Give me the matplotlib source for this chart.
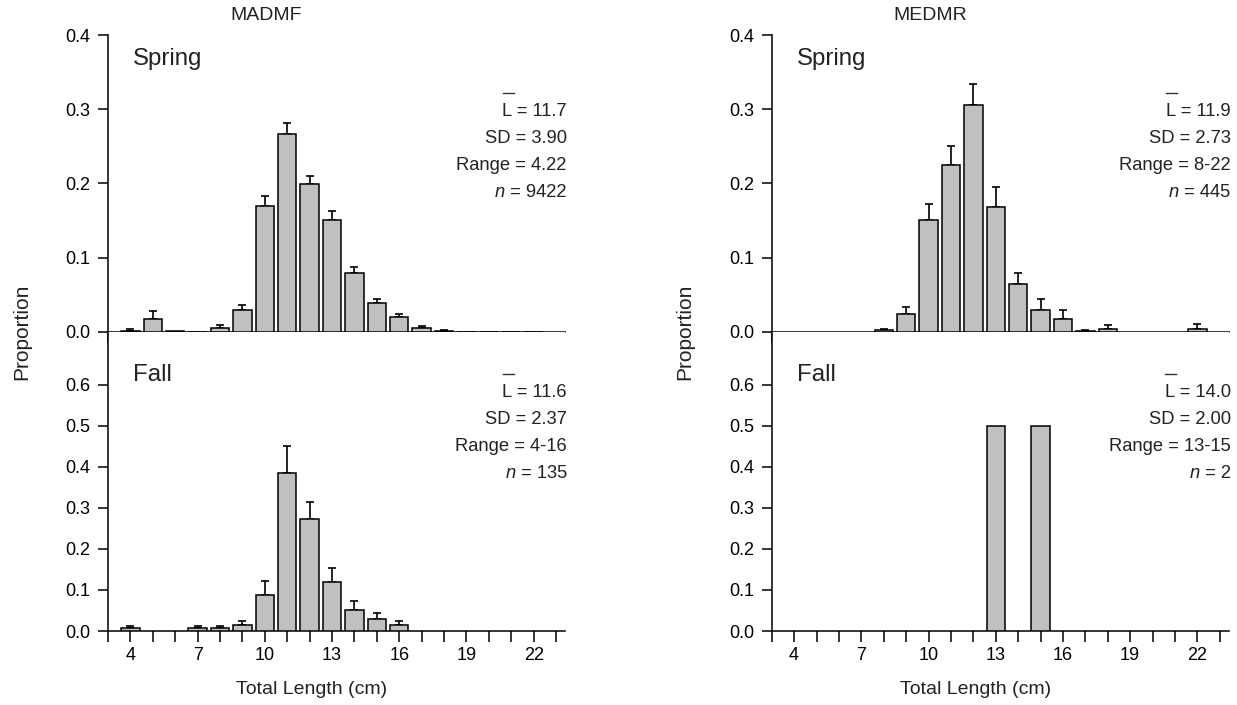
import numpy as np
import matplotlib
matplotlib.use("Agg")
import matplotlib.pyplot as plt
from matplotlib.ticker import MultipleLocator, FixedLocator, FormatStrFormatter

plt.rcParams['font.family'] = ['Liberation Sans', 'DejaVu Sans']

# MADMF spring
madmf_spring_len = [4, 5, 6, 7, 8, 9, 10, 11, 12, 13, 14, 15, 16, 17, 18, 19, 20, 21, 22]
madmf_spring_prop = [0.002, 0.018, 0.001, 0.0005, 0.006, 0.030, 0.170, 0.266, 0.200, 0.151,
                     0.080, 0.039, 0.020, 0.006, 0.002, 0.0005, 0.0004, 0.0003, 0.0003]
madmf_spring_err = [0.002, 0.010, 0.0, 0.0, 0.003, 0.007, 0.013, 0.016, 0.010, 0.012,
                    0.007, 0.005, 0.004, 0.0015, 0.001, 0.0, 0.0, 0.0, 0.0]

# MADMF fall
madmf_fall_len = [4, 7, 8, 9, 10, 11, 12, 13, 14, 15, 16]
madmf_fall_prop = [0.0074, 0.0074, 0.0074, 0.0148, 0.0889, 0.385, 0.274, 0.1185, 0.0519, 0.0296, 0.0148]
madmf_fall_err = [0.005, 0.005, 0.005, 0.010, 0.033, 0.067, 0.041, 0.036, 0.022, 0.015, 0.010]

# MEDMR spring
medmr_spring_len = [8, 9, 10, 11, 12, 13, 14, 15, 16, 17, 18, 22]
medmr_spring_prop = [0.0025, 0.0236, 0.151, 0.225, 0.306, 0.168, 0.065, 0.029, 0.017, 0.002, 0.004, 0.004]
medmr_spring_err = [0.001, 0.010, 0.022, 0.026, 0.028, 0.027, 0.014, 0.016, 0.012, 0.0005, 0.005, 0.007]

# MEDMR fall
medmr_fall_len = [13, 15]
medmr_fall_prop = [0.5, 0.5]
medmr_fall_err = [0.0, 0.0]

titles = ["MADMF", "MEDMR"]
stats = {
    ("MADMF", "Spring"): ["11.7", "3.90", "4.22", "9422"],
    ("MADMF", "Fall"): ["11.6", "2.37", "4-16", "135"],
    ("MEDMR", "Spring"): ["11.9", "2.73", "8-22", "445"],
    ("MEDMR", "Fall"): ["14.0", "2.00", "13-15", "2"],
}

panels = {
    ("MADMF", "Spring"): (madmf_spring_len, madmf_spring_prop, madmf_spring_err),
    ("MADMF", "Fall"): (madmf_fall_len, madmf_fall_prop, madmf_fall_err),
    ("MEDMR", "Spring"): (medmr_spring_len, medmr_spring_prop, medmr_spring_err),
    ("MEDMR", "Fall"): (medmr_fall_len, medmr_fall_prop, medmr_fall_err),
}

W, H = 1237, 705
fig = plt.figure(figsize=(W / 100, H / 100), dpi=100)

col_x0 = [108 / W, 771.7 / W]
ax_w = 457 / W
spring_box = (1 - 332 / H, 297 / H)
fall_box = (1 - 631 / H, 299 / H)
STAT_FS = 13.2


def style_axes(ax, season):
    for s in ["top", "right"]:
        ax.spines[s].set_visible(False)
    for s in ["left", "bottom"]:
        ax.spines[s].set_linewidth(1.1)
    ax.set_xlim(3, 23.4)
    ax.xaxis.set_major_locator(FixedLocator([4, 7, 10, 13, 16, 19, 22]))
    ax.xaxis.set_minor_locator(MultipleLocator(1))
    ax.tick_params(axis="x", which="both", direction="out", length=8, width=1.1,
                   labelsize=13, pad=3.5)
    ax.tick_params(axis="y", direction="out", length=7.2, width=1.1, labelsize=13, pad=5.5)
    if season == "Spring":
        ax.set_ylim(0, 0.4)
        ax.yaxis.set_major_locator(MultipleLocator(0.1))
        ax.tick_params(axis="x", labelbottom=False)
    else:
        ax.set_ylim(0, 0.729)
        ax.yaxis.set_major_locator(FixedLocator([0, 0.1, 0.2, 0.3, 0.4, 0.5, 0.6]))
    ax.yaxis.set_major_formatter(FormatStrFormatter("%.1f"))


for ci, name in enumerate(titles):
    for season, (y0, h) in [("Spring", spring_box), ("Fall", fall_box)]:
        ax = fig.add_axes([col_x0[ci], y0, ax_w, h])
        lens, props, errs = panels[(name, season)]
        lens = np.array(lens)
        props = np.array(props)
        errs = np.array(errs)
        ax.bar(lens, props, width=0.82, color="#c0c0c0", edgecolor="black",
               linewidth=1.1, zorder=3)
        show = errs > 0
        if show.any():
            ax.errorbar(lens[show], props[show], yerr=[np.zeros(show.sum()), errs[show]],
                        fmt="none", ecolor="black", elinewidth=1.2, capsize=3.2,
                        capthick=1.2, zorder=2)
        style_axes(ax, season)

        ytxt = 0.919 if season == "Spring" else 0.856
        ax.text(0.055, ytxt, season, transform=ax.transAxes, fontsize=17.3,
                ha="left", va="center", color="#222222")

        # stats block, right aligned
        hpx = 297 if season == "Spring" else 299
        first = 0.741 if season == "Spring" else 0.796
        step = 26.8 / hpx
        mean, sd, rng, n = stats[(name, season)]
        for k, t in enumerate([f"L = {mean}", f"SD = {sd}", f"Range = {rng}", f" = {n}"]):
            ax.text(1.004, first - k * step, t, transform=ax.transAxes, fontsize=STAT_FS,
                    ha="right", va="center", color="#222222")
        # italic n in front of the last line
        tmp = ax.text(1.004, first - 3 * step, f" = {n}", transform=ax.transAxes,
                      fontsize=STAT_FS, ha="right", va="center", alpha=0)
        fig.canvas.draw()
        bb = tmp.get_window_extent().transformed(ax.transAxes.inverted())
        tmp.remove()
        ax.text(bb.x0, first - 3 * step, "n", transform=ax.transAxes, fontsize=STAT_FS,
                ha="right", va="center", style="italic", color="#222222")
        # overbar above L
        lab = ax.text(1.004, first, f"L = {mean}", transform=ax.transAxes,
                      fontsize=STAT_FS, ha="right", va="center", alpha=0)
        fig.canvas.draw()
        lb = lab.get_window_extent().transformed(ax.transAxes.inverted())
        lab.remove()
        lx = lb.x0 + 0.001
        ax.plot([lx, lx + 11 / 457], [first + 19 / hpx, first + 19 / hpx],
                transform=ax.transAxes, color="#333333", lw=1.0, clip_on=False)

    fig.text((266 + ci * 664) / W, 1 - 15 / H, name, fontsize=14, ha="center", va="center",
             color="#222222")
    fig.text((312 + ci * 664) / W, 1 - 690 / H, "Total Length (cm)", fontsize=14,
             ha="center", va="center", color="#222222")
    fig.text((22 + ci * 663) / W, 1 - 332 / H, "Proportion", fontsize=15,
             ha="center", va="center", rotation=90, color="#222222")

fig.savefig("out.png", dpi=100)
